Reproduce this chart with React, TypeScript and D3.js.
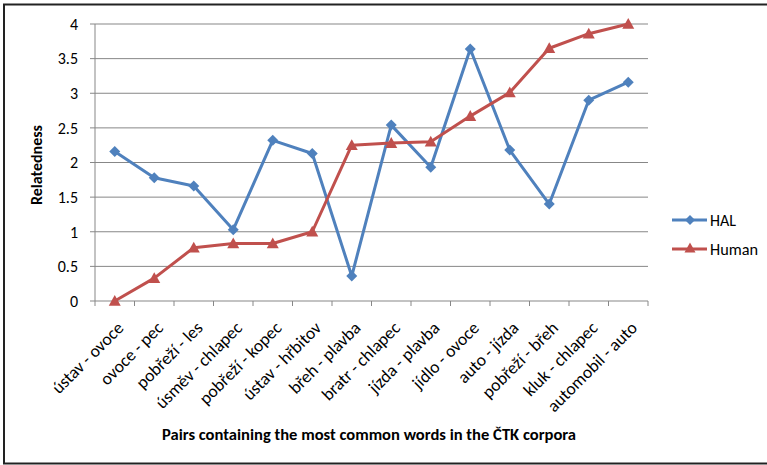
import React from "react";
import * as d3 from "d3";

const categories = [
  "ústav - ovoce",
  "ovoce - pec",
  "pobřeží - les",
  "úsměv - chlapec",
  "pobřeží - kopec",
  "ústav - hřbitov",
  "břeh - plavba",
  "bratr - chlapec",
  "jízda - plavba",
  "jídlo - ovoce",
  "auto - jízda",
  "pobřeží - břeh",
  "kluk - chlapec",
  "automobil - auto",
];
const halValues = [2.16, 1.78, 1.66, 1.03, 2.32, 2.13, 0.36, 2.54, 1.93, 3.64, 2.18, 1.4, 2.9, 3.16];
const humanValues = [0, 0.33, 0.77, 0.83, 0.83, 1.0, 2.25, 2.28, 2.3, 2.67, 3.01, 3.65, 3.86, 4.0];
const yTicks = [0, 0.5, 1, 1.5, 2, 2.5, 3, 3.5, 4];
const seriesNames = ["HAL", "Human"];
const seriesColors = ["#4F81BD", "#C0504D"];
const legendWidths = [26, 48];

const FONT = "Carlito, Lato, 'Open Sans', sans-serif";

export default function App() {
  const W = 767, H = 465;
  const left = 95, right = 648, top = 24, bottom = 301;
  const x = d3.scaleBand<string>().domain(categories).range([left, right]);
  const y = d3.scaleLinear().domain([0, 4]).range([bottom, top]);
  const cx = (c: string) => (x(c) as number) + x.bandwidth() / 2;
  const line = d3.line<number>().x((_, i) => cx(categories[i])).y((v) => y(v));
  const diamond = (px: number, py: number, r = 5.5) =>
    `M${px},${py - r}L${px + r},${py}L${px},${py + r}L${px - r},${py}Z`;
  const tri = (px: number, py: number, r = 6) =>
    `M${px},${py - r}L${px + r},${py + r * 0.8}L${px - r},${py + r * 0.8}Z`;
  const series = [halValues, humanValues];

  return (
    <svg width={W} height={H} style={{ position: "absolute", left: 0, top: 0 }} fontFamily={FONT}>
      <rect x={0} y={0} width={W} height={H} fill="#fff" />
      <rect x={4} y={4.5} width={W + 10} height={459} fill="none" stroke="#222" strokeWidth={2} />
      {yTicks.map((t) => (
        <g key={t}>
          <line x1={left} x2={right} y1={y(t)} y2={y(t)} stroke="#878787" strokeWidth={1} />
          <line x1={left - 5} x2={left} y1={y(t)} y2={y(t)} stroke="#878787" strokeWidth={1} />
          <text x={left - 17} y={y(t)} dy="0.36em" textAnchor="end" fontSize={16} fill="#000">
            {t}
          </text>
        </g>
      ))}
      <line x1={left} x2={left} y1={top} y2={bottom} stroke="#878787" strokeWidth={1} />
      {categories.map((c, i) => (
        <line key={"t" + i} x1={x(c)} x2={x(c)} y1={bottom} y2={bottom + 5} stroke="#878787" />
      ))}
      <line x1={right} x2={right} y1={bottom} y2={bottom + 5} stroke="#878787" />
      {categories.map((c) => (
        <text
          key={c}
          transform={`translate(${cx(c) + 10},${bottom + 28}) rotate(-45)`}
          textAnchor="end"
          fontSize={17.5}
          fill="#000"
        >
          {c}
        </text>
      ))}
      {series.map((s, si) => (
        <path key={si} d={line(s) as string} fill="none" stroke={seriesColors[si]} strokeWidth={3} strokeLinejoin="round" />
      ))}
      {halValues.map((v, i) => (
        <path key={"h" + i} d={diamond(cx(categories[i]), y(v))} fill={seriesColors[0]} />
      ))}
      {humanValues.map((v, i) => (
        <path key={"u" + i} d={tri(cx(categories[i]), y(v))} fill={seriesColors[1]} />
      ))}
      <text
        transform={`translate(42,165) rotate(-90)`}
        textAnchor="middle"
        fontSize={15.5}
        fontWeight="bold"
        textLength={80}
        lengthAdjust="spacingAndGlyphs"
      >
        Relatedness
      </text>
      <text
        x={162}
        y={440}
        fontSize={15.5}
        fontWeight="bold"
        textLength={414}
        lengthAdjust="spacingAndGlyphs"
      >
        Pairs containing the most common words in the ČTK corpora
      </text>
      {seriesNames.map((n, i) => {
        const ly = 220 + i * 29;
        return (
          <g key={n}>
            <line x1={672} x2={707} y1={ly} y2={ly} stroke={seriesColors[i]} strokeWidth={3} />
            <path d={i === 0 ? diamond(690, ly, 5) : tri(690, ly - 1, 5.5)} fill={seriesColors[i]} />
            <text x={710} y={ly} dy="0.36em" fontSize={16} textLength={legendWidths[i]} lengthAdjust="spacingAndGlyphs">
              {n}
            </text>
          </g>
        );
      })}
    </svg>
  );
}
